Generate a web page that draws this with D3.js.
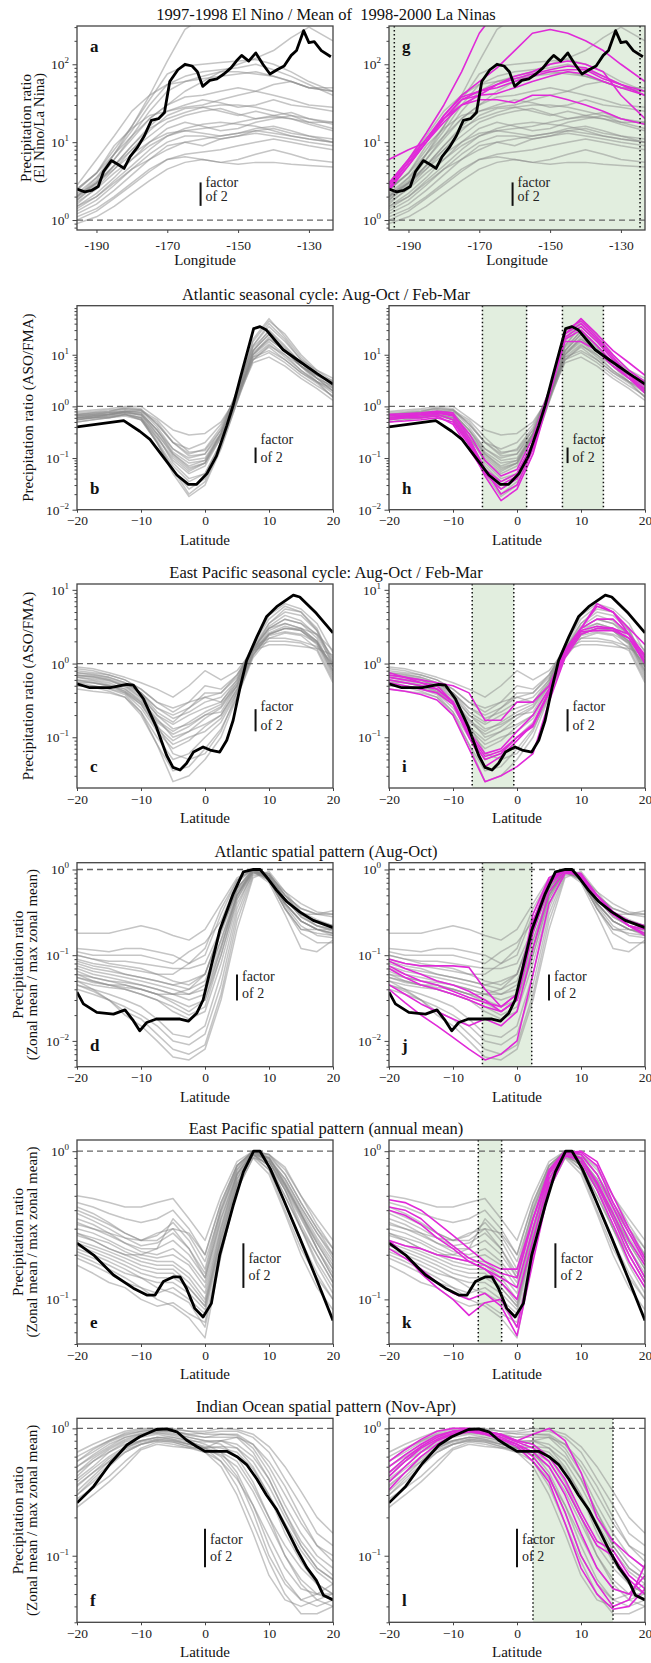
<!DOCTYPE html>
<html>
<head>
<meta charset="utf-8">
<script src="https://cdn.jsdelivr.net/npm/d3@7"></script>
<style>
body { margin: 0; background: #fff; }
svg { display: block; font-family: "Liberation Serif", "DejaVu Serif", serif; }
</style>
</head>
<body>
<div id="chart"></div>
<script>
// ---------- data ----------
const titles = [
  "1997-1998 El Nino / Mean of  1998-2000 La Ninas",
  "Atlantic seasonal cycle: Aug-Oct / Feb-Mar",
  "East Pacific seasonal cycle: Aug-Oct / Feb-Mar",
  "Atlantic spatial pattern (Aug-Oct)",
  "East Pacific spatial pattern (annual mean)",
  "Indian Ocean spatial pattern (Nov-Apr)"
];
const yLabelLines = [
  ["Precipitation ratio", "(El Nino/La Nina)"],
  ["Precipitation ratio (ASO/FMA)"],
  ["Precipitation ratio (ASO/FMA)"],
  ["Precipitation ratio", "(Zonal mean / max zonal mean)"],
  ["Precipitation ratio", "(Zonal mean / max zonal mean)"],
  ["Precipitation ratio", "(Zonal mean / max zonal mean)"]
];
const panelLetters = [["a", "g"], ["b", "h"], ["c", "i"], ["d", "j"], ["e", "k"], ["f", "l"]];
const lonTicks = [-190, -170, -150, -130];
const latTicks = [-20, -10, 0, 10, 20];

const lonGrid = [-195.5, -190, -185, -180, -175, -170, -165, -160, -155, -150, -145, -140, -135, -130, -123.2];
const latGrid = [-20, -17.5, -15, -12.5, -10, -7.5, -5, -2.5, 0, 2.5, 5, 7.5, 10, 12.5, 15, 17.5, 20];

// row 1: El Nino / La Nina
const elninoBlackLon = [-195.5,-193.3,-191.4,-189.5,-188,-185.8,-184,-182.2,-180.5,-178.5,-176.5,-174.5,-172.5,-170.8,-169.3,-167,-165,-163,-161.5,-160,-158,-156,-154,-152,-150.5,-149,-147,-145,-143,-141,-139,-137,-135,-133.5,-131.5,-130,-128.5,-126.5,-123.8];
const elninoBlack = [2.5,2.3,2.4,2.7,4.2,5.8,5.2,4.6,6.5,8.5,12,19,20,24,60,85,100,95,80,52,62,65,75,90,110,130,110,140,100,75,85,95,130,150,270,190,195,150,125];
const elninoGray = [
  [2.0,3.2,7,16,40,110,280,400,400,400,400,400,400,400,400],
  [2.5,4,8,16,35,75,95,100,105,110,115,100,80,60,45],
  [2.2,3.5,7,14,30,55,70,80,85,90,100,85,70,55,40],
  [1.8,3,6,12,25,45,60,70,80,80,75,70,60,50,45],
  [2.0,3.5,6,11,20,30,38,40,45,50,45,40,35,30,28],
  [1.8,2.8,5,9,16,25,30,35,32,28,30,35,30,28,25],
  [1.6,2.6,4.5,8,14,22,27,28,25,22,25,22,20,18,18],
  [2.1,3,5,8,12,18,22,25,27,23,20,22,24,20,17],
  [1.5,2.2,3.5,6,10,15,18,16,14,15,18,20,22,18,15],
  [1.7,2.5,4,6,9,12,14,15,16,18,20,21,20,17,14],
  [1.3,1.8,2.8,4.5,7,10,12,12,11,12,14,15,13,12,11],
  [1.2,1.6,2.4,3.8,6,9,10,11,12,13,15,16,14,12,10],
  [1.5,2,3,4.5,6,8,10,9,11,12,13,12,11,10,9],
  [1.0,1.3,1.9,2.8,4.2,6,7,7.5,8,9,10,11,10,9,8],
  [1.1,1.4,2,3,4.5,6,6.5,6,5.5,6,7,8,7,6,5.5],
  [0.9,1.1,1.5,2.2,3.2,4.5,5.5,6,5.5,5.2,5.5,5.5,5.2,5,4.8],
  [2.8,6,12,25,40,55,60,65,70,75,80,70,60,50,50],
  [1.9,3,5,9,15,20,24,28,30,30,28,25,22,20,18],
  [2.4,4,9,15,22,25,28,30,35,40,45,55,60,50,45],
  [2.5,4,7,12,20,30,45,60,80,100,120,150,220,300,200],
  [1.4,2,3.2,5,8,12,15,17,18,17,16,14,12,11,10],
  [2.0,3,4.5,7,10,13,14,13,12,13,14,13,12,11,10]
];
const elninoMagenta = [
  [3.0,6,13,30,80,250,500,500,500,500,500,500,500,500,500],
  [2.5,5,10,22,40,60,90,150,250,280,250,200,150,100,60],
  [3,6,11,20,35,45,55,65,75,85,95,90,70,55,45],
  [2.6,5.5,11,22,38,45,50,60,70,80,85,85,65,55,40],
  [2.4,5,10,20,35,40,42,50,60,70,80,75,60,50,40],
  [2.8,5.5,10,18,30,35,35,32,40,40,35,30,25,20,17],
  [6,8,10,20,30,40,55,70,80,100,110,100,80,40,20]
];

// row 2: Atlantic seasonal cycle
const atlSeasBlackLat = [-20,-12.7,-10.2,-8.6,-6,-4.4,-2.6,-1.3,0.3,1.8,3.4,4.4,5.5,7.6,8.6,9.6,12.2,14.8,17.4,20];
const atlSeasBlack = [0.40,0.53,0.33,0.23,0.086,0.047,0.031,0.031,0.05,0.11,0.42,1.05,3.5,32,35,30,12.5,7.4,4.4,2.7];
const atlSeasGray = [
  [0.8,0.85,0.9,1.0,1.0,0.6,0.35,0.28,0.3,0.5,1.5,8,15,10,6,4,3],
  [0.7,0.75,0.8,0.95,0.9,0.45,0.2,0.12,0.15,0.4,1.8,12,25,12,6,4,3.2],
  [0.65,0.7,0.75,0.8,0.75,0.35,0.15,0.1,0.12,0.35,2,15,40,20,8,5,3.5],
  [0.6,0.65,0.7,0.75,0.7,0.3,0.12,0.07,0.09,0.3,1.8,18,45,25,10,5,3],
  [0.55,0.6,0.7,0.8,0.65,0.25,0.09,0.05,0.07,0.25,1.5,20,50,22,9,4.5,2.5],
  [0.5,0.55,0.6,0.7,0.6,0.22,0.07,0.035,0.05,0.2,1.4,15,35,18,8,4,2.2],
  [0.6,0.62,0.65,0.7,0.55,0.2,0.06,0.025,0.04,0.18,1.3,12,30,15,7,3.5,2],
  [0.7,0.72,0.75,0.8,0.8,0.5,0.2,0.11,0.12,0.3,1.6,10,20,12,6,3.5,2.5],
  [0.55,0.6,0.65,0.75,0.6,0.2,0.05,0.018,0.03,0.15,1.2,10,22,12,6,3,1.8],
  [0.65,0.68,0.7,0.8,0.85,0.55,0.25,0.13,0.14,0.35,1.7,9,12,8,4.5,3,2],
  [0.75,0.8,0.85,0.9,0.85,0.4,0.15,0.09,0.1,0.3,1.6,8,11,7,4,2.5,1.6],
  [0.6,0.65,0.7,0.8,0.7,0.3,0.11,0.06,0.08,0.3,2,14,28,14,7,4,2.8],
  [0.5,0.55,0.6,0.65,0.55,0.25,0.1,0.055,0.08,0.28,1.6,10,18,10,5,3,1.5],
  [0.6,0.65,0.7,0.75,0.7,0.35,0.13,0.08,0.09,0.28,1.4,7,9,6,3.5,2.2,1.3],
  [0.7,0.75,0.8,0.9,0.85,0.45,0.2,0.15,0.2,0.45,1.6,9,16,9,5,3,2.3],
  [0.55,0.6,0.6,0.7,0.6,0.28,0.08,0.04,0.05,0.2,1.3,12,25,13,6,3.5,2],
  [0.65,0.7,0.75,0.85,0.75,0.35,0.12,0.065,0.08,0.25,1.5,11,20,12,6,3.5,2.4],
  [0.58,0.6,0.62,0.7,0.55,0.2,0.06,0.02,0.035,0.16,1.2,8,14,8,4.5,2.8,1.5]
];
const atlSeasMagenta = [
  [0.6,0.65,0.7,0.75,0.7,0.3,0.09,0.045,0.06,0.25,2,25,50,25,12,7,4],
  [0.55,0.6,0.6,0.65,0.45,0.15,0.05,0.025,0.04,0.2,2,30,45,22,10,5,3],
  [0.7,0.72,0.75,0.8,0.75,0.25,0.06,0.02,0.03,0.15,1.8,25,40,20,9,4,2],
  [0.5,0.52,0.55,0.6,0.5,0.18,0.045,0.015,0.025,0.12,1.5,20,30,15,7,3.5,1.8],
  [0.65,0.68,0.7,0.75,0.65,0.22,0.06,0.035,0.05,0.2,1.8,18,18,12,6,3.5,2.2],
  [0.6,0.62,0.65,0.7,0.55,0.2,0.055,0.03,0.045,0.18,1.7,22,35,18,8,4,2.5]
];

// row 3: East Pacific seasonal cycle
const epSeasBlackLat = [-20,-18,-14.8,-12.2,-11.2,-9.6,-7.6,-6,-5,-3.9,-2.9,-1.8,-0.3,0.8,2.3,3.4,4.4,5.5,6.5,8.1,9.6,11.2,13.8,14.8,17.4,20];
const epSeasBlack = [0.53,0.47,0.47,0.52,0.51,0.33,0.138,0.057,0.039,0.036,0.044,0.063,0.074,0.067,0.063,0.091,0.17,0.48,1.1,2.3,4.3,5.9,8.5,8.0,4.8,2.6];
const epSeasGray = [
  [0.9,0.85,0.75,0.65,0.55,0.45,0.35,0.5,0.8,0.6,0.8,1.5,2.5,3,3,2.5,1.5],
  [0.8,0.75,0.7,0.6,0.45,0.3,0.22,0.3,0.5,0.45,0.7,1.6,3,4,3.5,2.5,1.2],
  [0.75,0.7,0.65,0.55,0.4,0.25,0.18,0.22,0.3,0.35,0.6,1.7,3.5,5,4.5,2.8,1.1],
  [0.7,0.65,0.6,0.5,0.35,0.2,0.15,0.2,0.25,0.3,0.55,1.8,4,6,5,3,1],
  [0.65,0.6,0.55,0.45,0.3,0.17,0.12,0.16,0.22,0.28,0.5,1.5,3.5,5.5,5,2.8,0.9],
  [0.6,0.58,0.52,0.42,0.28,0.14,0.09,0.12,0.18,0.25,0.5,1.6,3,4,3.5,2.2,0.8],
  [0.55,0.55,0.5,0.4,0.25,0.12,0.07,0.09,0.14,0.2,0.45,1.4,2.8,3.5,3,2,0.7],
  [0.5,0.5,0.45,0.38,0.22,0.1,0.05,0.06,0.1,0.16,0.4,1.3,2.5,3,2.8,1.8,0.65],
  [0.45,0.42,0.4,0.35,0.2,0.08,0.035,0.04,0.07,0.13,0.35,1.2,2.2,2.6,2.4,1.6,0.6],
  [0.6,0.55,0.5,0.42,0.3,0.15,0.06,0.05,0.06,0.12,0.4,1.5,3,3.5,3,2,0.8],
  [0.5,0.48,0.42,0.35,0.22,0.08,0.025,0.03,0.05,0.1,0.35,1.3,2.5,3,2.8,1.9,0.75],
  [0.7,0.68,0.62,0.52,0.4,0.25,0.2,0.25,0.35,0.3,0.6,1.7,2.2,2.2,2,1.7,1],
  [0.85,0.8,0.7,0.6,0.45,0.3,0.25,0.3,0.35,0.4,0.7,1.5,1.8,1.8,1.7,1.6,1.3],
  [0.65,0.62,0.58,0.5,0.38,0.2,0.13,0.15,0.2,0.22,0.5,1.6,3.2,4.5,3.8,2.4,1],
  [0.58,0.55,0.5,0.45,0.32,0.18,0.1,0.12,0.15,0.2,0.45,1.4,2.6,3.2,2.8,2,0.9],
  [0.75,0.72,0.65,0.55,0.4,0.22,0.16,0.25,0.4,0.4,0.65,1.8,4.5,6.5,5.5,3.5,1.4],
  [0.55,0.5,0.46,0.4,0.28,0.13,0.08,0.1,0.12,0.18,0.42,1.3,2.4,2.7,2.5,1.9,0.9],
  [0.68,0.66,0.6,0.48,0.34,0.16,0.11,0.14,0.2,0.26,0.55,1.6,2,2,1.9,1.5,0.55]
];
const epSeasMagenta = [
  [0.7,0.65,0.6,0.55,0.5,0.4,0.17,0.17,0.3,0.3,0.5,1.5,3,6.5,5,3,1.8],
  [0.75,0.65,0.55,0.45,0.3,0.12,0.06,0.07,0.12,0.2,0.45,1.5,3,6,5,2.5,1.2],
  [0.6,0.55,0.5,0.45,0.3,0.1,0.05,0.06,0.1,0.14,0.4,1.5,3,4,4,2.5,1.0],
  [0.45,0.42,0.38,0.32,0.2,0.07,0.025,0.03,0.04,0.06,0.3,1.2,2.5,3,3,2.2,1.0],
  [0.55,0.5,0.45,0.4,0.28,0.1,0.04,0.055,0.09,0.15,0.4,1.3,2.8,3.2,3,2.5,1.3],
  [0.65,0.6,0.55,0.5,0.3,0.11,0.055,0.065,0.1,0.15,0.42,1.4,2.7,2.8,2.8,2.2,1.1]
];

// row 4: Atlantic spatial pattern
const atlSpatBlackLat = [-20,-19,-16.9,-14.3,-12.5,-11.2,-10.2,-9.1,-7.6,-6,-3.9,-2.6,-1.3,-0.3,0.8,2.3,4.4,6,7.6,8.6,9.6,11.2,12.8,14.8,16.9,20];
const atlSpatBlack = [0.037,0.027,0.0215,0.0205,0.023,0.0172,0.0131,0.0164,0.018,0.018,0.018,0.017,0.021,0.03,0.066,0.195,0.52,0.94,1.0,1.0,0.82,0.57,0.42,0.32,0.255,0.21];
const atlSpatGray = [
  [0.18,0.18,0.18,0.2,0.22,0.2,0.17,0.15,0.2,0.4,0.8,1.0,0.8,0.5,0.35,0.3,0.28],
  [0.12,0.115,0.11,0.12,0.12,0.11,0.1,0.08,0.1,0.3,0.75,1.0,0.85,0.55,0.4,0.32,0.3],
  [0.11,0.1,0.1,0.1,0.1,0.09,0.08,0.11,0.14,0.25,0.7,1.0,0.9,0.5,0.35,0.3,0.33],
  [0.1,0.09,0.085,0.085,0.08,0.075,0.07,0.07,0.08,0.2,0.6,1.0,0.8,0.45,0.3,0.25,0.22],
  [0.09,0.08,0.075,0.07,0.065,0.06,0.05,0.045,0.06,0.18,0.6,1.0,0.75,0.35,0.2,0.2,0.2],
  [0.085,0.075,0.07,0.06,0.055,0.05,0.045,0.04,0.05,0.15,0.55,0.95,0.7,0.3,0.12,0.11,0.15],
  [0.075,0.065,0.06,0.055,0.05,0.045,0.04,0.035,0.04,0.13,0.5,0.95,0.75,0.4,0.25,0.2,0.18],
  [0.07,0.06,0.055,0.05,0.045,0.04,0.035,0.03,0.035,0.12,0.5,1.0,0.8,0.4,0.25,0.2,0.17],
  [0.065,0.055,0.05,0.045,0.04,0.035,0.03,0.025,0.03,0.1,0.45,0.95,0.8,0.45,0.28,0.22,0.19],
  [0.06,0.05,0.045,0.045,0.04,0.035,0.028,0.022,0.03,0.12,0.5,1.0,0.75,0.38,0.22,0.17,0.16],
  [0.055,0.048,0.045,0.04,0.035,0.03,0.025,0.02,0.025,0.1,0.45,0.95,0.85,0.45,0.3,0.25,0.22],
  [0.05,0.045,0.042,0.04,0.035,0.03,0.022,0.018,0.022,0.08,0.4,0.9,0.9,0.5,0.3,0.22,0.2],
  [0.045,0.04,0.035,0.03,0.025,0.018,0.012,0.011,0.015,0.06,0.35,0.95,0.8,0.4,0.25,0.2,0.18],
  [0.04,0.035,0.03,0.025,0.02,0.015,0.01,0.009,0.012,0.045,0.3,0.9,0.85,0.45,0.28,0.22,0.2],
  [0.045,0.038,0.03,0.022,0.018,0.012,0.008,0.007,0.009,0.035,0.25,0.85,0.9,0.5,0.3,0.25,0.21],
  [0.05,0.04,0.03,0.02,0.015,0.01,0.0065,0.006,0.008,0.03,0.2,0.8,0.95,0.55,0.32,0.26,0.22],
  [0.1,0.09,0.08,0.075,0.07,0.06,0.06,0.08,0.12,0.35,0.75,1.0,0.8,0.4,0.25,0.2,0.18],
  [0.06,0.055,0.05,0.048,0.045,0.04,0.035,0.04,0.06,0.2,0.6,1.0,0.75,0.35,0.2,0.18,0.17],
  [0.08,0.07,0.065,0.06,0.055,0.05,0.045,0.05,0.06,0.2,0.55,1.0,0.85,0.45,0.3,0.3,0.3],
  [0.055,0.05,0.045,0.042,0.04,0.035,0.035,0.035,0.045,0.15,0.5,0.95,0.75,0.35,0.18,0.14,0.14]
];
const atlSpatMagenta = [
  [0.09,0.08,0.075,0.075,0.075,0.072,0.04,0.025,0.035,0.3,0.8,1.0,0.8,0.45,0.3,0.25,0.2],
  [0.085,0.07,0.06,0.05,0.045,0.038,0.03,0.022,0.03,0.25,0.75,1.0,0.85,0.5,0.32,0.25,0.22],
  [0.075,0.06,0.05,0.045,0.038,0.032,0.028,0.025,0.035,0.2,0.7,1.0,0.85,0.5,0.32,0.25,0.2],
  [0.07,0.055,0.045,0.04,0.035,0.03,0.025,0.022,0.03,0.18,0.65,1.0,0.8,0.45,0.3,0.22,0.18],
  [0.045,0.035,0.027,0.022,0.018,0.015,0.018,0.015,0.022,0.12,0.55,0.95,0.85,0.5,0.32,0.22,0.17],
  [0.04,0.028,0.02,0.015,0.011,0.008,0.006,0.007,0.01,0.06,0.4,0.9,0.9,0.5,0.3,0.22,0.2]
];

// row 5: East Pacific spatial pattern
const epSpatBlackLat = [-20,-17.4,-14.3,-11.2,-9.1,-7.8,-6.5,-4.9,-3.9,-2.9,-1.6,-0.3,1.0,2.3,4.4,6,7.6,8.6,10.2,12.2,14.8,17.4,20];
const epSpatBlack = [0.24,0.199,0.146,0.119,0.107,0.107,0.132,0.142,0.142,0.119,0.087,0.076,0.094,0.2,0.43,0.725,1.0,1.0,0.76,0.48,0.26,0.138,0.072];
const epSpatGray = [
  [0.5,0.48,0.45,0.42,0.42,0.45,0.48,0.35,0.25,0.5,0.85,1.0,0.95,0.7,0.45,0.3,0.22],
  [0.45,0.42,0.38,0.35,0.33,0.35,0.4,0.3,0.2,0.45,0.8,1.0,0.9,0.65,0.42,0.28,0.2],
  [0.42,0.38,0.33,0.28,0.25,0.27,0.33,0.25,0.16,0.42,0.8,1.0,0.95,0.75,0.5,0.35,0.25],
  [0.38,0.34,0.3,0.26,0.23,0.24,0.28,0.22,0.15,0.4,0.78,1.0,0.9,0.6,0.38,0.25,0.17],
  [0.35,0.32,0.28,0.24,0.22,0.22,0.25,0.2,0.14,0.38,0.75,1.0,0.92,0.7,0.45,0.3,0.2],
  [0.33,0.3,0.27,0.24,0.21,0.2,0.22,0.18,0.13,0.35,0.72,0.98,0.85,0.58,0.36,0.22,0.15],
  [0.3,0.28,0.25,0.22,0.2,0.19,0.2,0.17,0.12,0.32,0.7,0.98,0.9,0.62,0.4,0.26,0.18],
  [0.28,0.26,0.24,0.21,0.19,0.18,0.18,0.15,0.11,0.3,0.7,0.95,0.8,0.5,0.3,0.18,0.12],
  [0.27,0.25,0.22,0.2,0.18,0.17,0.17,0.14,0.1,0.3,0.68,0.95,0.88,0.65,0.42,0.28,0.19],
  [0.25,0.23,0.21,0.19,0.17,0.16,0.16,0.13,0.095,0.28,0.65,0.95,0.8,0.5,0.3,0.2,0.13],
  [0.23,0.21,0.19,0.17,0.15,0.14,0.14,0.12,0.09,0.27,0.65,0.95,0.85,0.58,0.37,0.24,0.16],
  [0.21,0.19,0.17,0.15,0.14,0.13,0.13,0.11,0.085,0.25,0.62,0.92,0.75,0.45,0.25,0.15,0.1],
  [0.19,0.17,0.15,0.13,0.12,0.11,0.12,0.1,0.08,0.24,0.6,0.95,0.8,0.55,0.35,0.22,0.14],
  [0.17,0.15,0.13,0.12,0.1,0.09,0.095,0.08,0.07,0.22,0.58,0.95,0.9,0.6,0.38,0.22,0.14],
  [0.2,0.18,0.16,0.14,0.12,0.1,0.09,0.075,0.055,0.2,0.55,0.9,0.85,0.55,0.3,0.17,0.11],
  [0.28,0.25,0.22,0.2,0.2,0.22,0.35,0.27,0.18,0.4,0.75,1.0,0.85,0.55,0.32,0.2,0.13],
  [0.32,0.3,0.28,0.26,0.25,0.28,0.3,0.22,0.14,0.35,0.7,0.98,0.88,0.6,0.38,0.24,0.16],
  [0.24,0.22,0.2,0.18,0.16,0.15,0.15,0.12,0.09,0.26,0.6,0.95,0.75,0.4,0.22,0.14,0.1],
  [0.22,0.2,0.18,0.16,0.14,0.12,0.11,0.095,0.065,0.2,0.55,0.9,0.7,0.38,0.2,0.12,0.085],
  [0.4,0.36,0.32,0.28,0.25,0.25,0.3,0.28,0.2,0.45,0.8,1.0,0.95,0.78,0.5,0.32,0.22]
];
const epSpatMagenta = [
  [0.47,0.45,0.4,0.33,0.27,0.22,0.18,0.16,0.16,0.35,0.75,1.0,0.98,0.8,0.45,0.28,0.18],
  [0.42,0.4,0.35,0.28,0.23,0.19,0.17,0.15,0.14,0.35,0.72,0.98,1.0,0.85,0.5,0.3,0.19],
  [0.4,0.37,0.32,0.26,0.22,0.18,0.16,0.14,0.12,0.3,0.7,1.0,0.95,0.7,0.42,0.25,0.17],
  [0.25,0.23,0.22,0.2,0.19,0.18,0.16,0.13,0.1,0.25,0.65,0.98,0.9,0.6,0.35,0.2,0.13],
  [0.25,0.2,0.15,0.12,0.1,0.078,0.095,0.1,0.065,0.2,0.6,0.95,0.85,0.55,0.32,0.18,0.12],
  [0.22,0.19,0.16,0.13,0.11,0.1,0.11,0.09,0.057,0.18,0.55,0.92,0.9,0.62,0.38,0.22,0.14]
];

// row 6: Indian Ocean spatial pattern
const ioSpatBlackLat = [-20,-17.4,-14.8,-12.2,-10.2,-7.6,-6,-4.4,-2.9,-1.3,0,1.8,3.4,5,6.5,8.1,9.6,11.2,12.8,14.3,15.9,17.4,18.5,20];
const ioSpatBlack = [0.26,0.35,0.53,0.74,0.86,0.98,0.99,0.94,0.81,0.72,0.66,0.66,0.66,0.6,0.52,0.4,0.3,0.23,0.16,0.113,0.081,0.064,0.049,0.045];
const ioSpatGray = [
  [0.65,0.75,0.85,0.95,1.0,1.0,1.0,0.95,0.9,0.9,0.9,0.75,0.5,0.3,0.18,0.12,0.1],
  [0.6,0.7,0.8,0.9,0.95,0.98,0.95,0.9,0.85,0.85,0.85,0.65,0.4,0.22,0.12,0.08,0.065],
  [0.55,0.65,0.78,0.88,0.95,0.97,0.95,0.88,0.85,0.9,0.88,0.7,0.45,0.25,0.15,0.1,0.08],
  [0.5,0.62,0.75,0.85,0.9,0.95,0.92,0.85,0.8,0.8,0.7,0.5,0.3,0.15,0.09,0.06,0.05],
  [0.45,0.58,0.7,0.82,0.9,0.93,0.9,0.85,0.8,0.75,0.6,0.38,0.2,0.1,0.06,0.045,0.04],
  [0.42,0.55,0.68,0.8,0.88,0.92,0.88,0.82,0.75,0.65,0.45,0.25,0.12,0.065,0.045,0.04,0.045],
  [0.4,0.5,0.65,0.78,0.85,0.9,0.85,0.8,0.7,0.55,0.35,0.18,0.09,0.05,0.035,0.035,0.04],
  [0.38,0.48,0.6,0.72,0.8,0.85,0.82,0.78,0.72,0.7,0.65,0.48,0.3,0.18,0.11,0.075,0.06],
  [0.35,0.45,0.58,0.7,0.8,0.85,0.82,0.75,0.7,0.65,0.55,0.35,0.2,0.12,0.08,0.06,0.05],
  [0.32,0.42,0.55,0.7,0.78,0.82,0.8,0.75,0.7,0.72,0.7,0.55,0.35,0.2,0.12,0.08,0.065],
  [0.3,0.38,0.5,0.65,0.75,0.8,0.78,0.72,0.68,0.62,0.5,0.32,0.18,0.1,0.065,0.05,0.045],
  [0.28,0.34,0.42,0.55,0.7,0.78,0.75,0.7,0.65,0.55,0.4,0.25,0.14,0.08,0.055,0.05,0.05],
  [0.24,0.3,0.38,0.5,0.68,0.75,0.72,0.7,0.7,0.8,0.85,0.75,0.55,0.35,0.2,0.12,0.09],
  [0.5,0.6,0.72,0.85,0.92,0.95,0.95,0.9,0.92,0.95,0.95,0.85,0.65,0.4,0.25,0.15,0.12],
  [0.55,0.68,0.8,0.92,0.98,1.0,0.98,0.95,0.95,1.0,0.98,0.9,0.72,0.5,0.32,0.2,0.15],
  [0.45,0.55,0.65,0.75,0.8,0.85,0.85,0.8,0.78,0.8,0.75,0.6,0.4,0.22,0.13,0.09,0.07],
  [0.36,0.45,0.55,0.68,0.75,0.8,0.78,0.72,0.65,0.5,0.3,0.15,0.07,0.045,0.04,0.045,0.05],
  [0.3,0.4,0.52,0.65,0.75,0.82,0.8,0.75,0.7,0.6,0.42,0.22,0.1,0.06,0.045,0.05,0.06]
];
const ioSpatMagenta = [
  [0.55,0.68,0.82,0.95,1.0,1.0,0.95,0.9,0.8,0.9,1.0,0.8,0.45,0.2,0.13,0.1,0.08],
  [0.5,0.62,0.75,0.88,0.95,0.98,0.95,0.9,0.8,0.75,0.6,0.4,0.22,0.13,0.11,0.07,0.055],
  [0.45,0.58,0.72,0.85,0.95,0.98,0.95,0.88,0.78,0.7,0.55,0.35,0.2,0.12,0.1,0.065,0.05],
  [0.42,0.55,0.7,0.82,0.92,0.96,0.92,0.85,0.75,0.65,0.5,0.3,0.15,0.08,0.055,0.05,0.07],
  [0.38,0.5,0.65,0.8,0.9,0.95,0.9,0.82,0.75,0.6,0.42,0.22,0.1,0.06,0.04,0.045,0.085],
  [0.33,0.45,0.6,0.75,0.88,0.94,0.9,0.82,0.72,0.55,0.38,0.18,0.08,0.05,0.038,0.04,0.055]
];

// highlighted ranges (right column) and "factor of 2" marker positions
const shadeRanges = [[[-196, -123]], [[-5.4, 1.5], [7.1, 13.5]], [[-7, -0.5]], [[-5.4, 2.3]], [[-6.05, -2.4]], [[2.5, 15]]];
const dottedAt = [[-194, -124.6], [-5.4, 1.5, 7.1, 13.5], [-7, -0.5], [-5.4, 2.3], [-6.05, -2.4], [2.5, 15]];
const factorX = [-160.6, 7.9, 7.9, 5, 6, 0];
const factorV = [2.15, 0.113, 0.17, 0.042, 0.169, 0.115];
const yDomains = [[0.745, 310], [0.01, 89], [0.0205, 12], [0.005, 1.2], [0.05, 1.19], [0.03, 1.2]];
const yMajors = [[1, 10, 100], [0.01, 0.1, 1, 10], [0.1, 1, 10], [0.01, 0.1, 1], [0.1, 1], [0.1, 1]];

// ---------- layout ----------
const W = 651, H = 1663;
const colLeft = [77, 389];
const pw = 256, ph = 204;
const rowTop = [26, 305.7, 584, 862.7, 1140, 1418.3];
const yLabelX = [[26, 39], [28], [28], [18, 32], [18, 32], [18, 32]];
const factorDy = [[-7, 7], [-11, 6.5], [-9, 9.5], [-6.5, 11], [-2.5, 14.5], [-4, 13]];

const rows = [
  {xDomain: [-195.5, -123.2], xTicks: lonTicks, xFmt: d => String(d), xLabel: "Longitude",
   grayX: lonGrid, gray: elninoGray, blackX: elninoBlackLon, black: elninoBlack, magenta: elninoMagenta},
  {xDomain: [-20, 20], xTicks: latTicks, xFmt: d3.format(""), xLabel: "Latitude",
   grayX: latGrid, gray: atlSeasGray, blackX: atlSeasBlackLat, black: atlSeasBlack, magenta: atlSeasMagenta},
  {xDomain: [-20, 20], xTicks: latTicks, xFmt: d3.format(""), xLabel: "Latitude",
   grayX: latGrid, gray: epSeasGray, blackX: epSeasBlackLat, black: epSeasBlack, magenta: epSeasMagenta},
  {xDomain: [-20, 20], xTicks: latTicks, xFmt: d3.format(""), xLabel: "Latitude",
   grayX: latGrid, gray: atlSpatGray, blackX: atlSpatBlackLat, black: atlSpatBlack, magenta: atlSpatMagenta},
  {xDomain: [-20, 20], xTicks: latTicks, xFmt: d3.format(""), xLabel: "Latitude",
   grayX: latGrid, gray: epSpatGray, blackX: epSpatBlackLat, black: epSpatBlack, magenta: epSpatMagenta},
  {xDomain: [-20, 20], xTicks: latTicks, xFmt: d3.format(""), xLabel: "Latitude",
   grayX: latGrid, gray: ioSpatGray, blackX: ioSpatBlackLat, black: ioSpatBlack, magenta: ioSpatMagenta}
];

function translate(x, y) {
  return 'translate(' + x + ',' + y + ')';
}

const svg = d3.select("#chart").append("svg")
  .attr("width", W)
  .attr("height", H);

function minorTicks(dom) {
  const out = [];
  const e0 = Math.floor(Math.log10(dom[0])), e1 = Math.ceil(Math.log10(dom[1]));
  for (let e = e0; e <= e1; e++) {
    for (let k = 2; k <= 9; k++) {
      const v = k * Math.pow(10, e);
      if (v >= dom[0] && v <= dom[1]) out.push(v);
    }
  }
  return out;
}

rows.forEach(function(row, r) {
  const top = rowTop[r];

  // row title
  svg.append("text")
    .attr("x", 326).attr("y", top - 6)
    .attr("text-anchor", "middle")
    .style("font-size", "16.5px")
    .style("white-space", "pre")
    .attr("fill", "#111")
    .text(titles[r]);

  // y label (left column only)
  yLabelLines[r].forEach(function(line, i) {
    svg.append("text")
      .attr("transform", translate(yLabelX[r][i] + 5, top + ph / 2) + " rotate(-90)")
      .attr("text-anchor", "middle")
      .style("font-size", "15px")
      .attr("fill", "#111")
      .text(line);
  });

  [0, 1].forEach(function(c) {
    const g = svg.append("g").attr("transform", translate(colLeft[c], top));
    const x = d3.scaleLinear().domain(row.xDomain).range([0, pw]);
    const y = d3.scaleLog().domain(yDomains[r]).range([ph, 0]);
    const line = d3.line().x(d => x(d[0])).y(d => y(d[1]));
    const clipId = "clip" + r + "_" + c;

    g.append("clipPath").attr("id", clipId)
      .append("rect").attr("width", pw).attr("height", ph);
    const plot = g.append("g").attr("clip-path", "url(#" + clipId + ")");

    if (c === 1) {
      plot.selectAll(".shade").data(shadeRanges[r]).enter().append("rect")
        .attr("x", d => x(d[0]))
        .attr("width", d => x(d[1]) - x(d[0]))
        .attr("y", 0).attr("height", ph)
        .attr("fill", "#e2eedf");
    }

    plot.selectAll(".gray").data(row.gray).enter().append("path")
      .attr("d", vals => line(vals.map((v, i) => [row.grayX[i], v])))
      .attr("fill", "none")
      .attr("stroke", "#8c8c8c")
      .attr("stroke-opacity", 0.5)
      .attr("stroke-width", 1.5)
      .attr("stroke-linejoin", "round");

    plot.append("line")
      .attr("x1", 0).attr("x2", pw)
      .attr("y1", y(1)).attr("y2", y(1))
      .attr("stroke", "#666")
      .attr("stroke-width", 1.3)
      .attr("stroke-dasharray", "6,4");

    if (c === 1) {
      plot.selectAll(".mag").data(row.magenta).enter().append("path")
        .attr("d", vals => line(vals.map((v, i) => [row.grayX[i], v])))
        .attr("fill", "none")
        .attr("stroke", "#e02ad8")
        .attr("stroke-width", 1.6)
        .attr("stroke-linejoin", "round");
    }

    plot.append("path")
      .attr("d", line(row.black.map((v, i) => [row.blackX[i], v])))
      .attr("fill", "none")
      .attr("stroke", "#000")
      .attr("stroke-width", 2.8)
      .attr("stroke-linejoin", "round");

    if (c === 1) {
      plot.selectAll(".dot").data(dottedAt[r]).enter().append("line")
        .attr("x1", d => x(d)).attr("x2", d => x(d))
        .attr("y1", 0).attr("y2", ph)
        .attr("stroke", "#111")
        .attr("stroke-width", 1.5)
        .attr("stroke-dasharray", "1.5,2.5");
    }

    // axes
    const xAxis = g.append("g")
      .attr("transform", translate(0, ph))
      .call(d3.axisBottom(x).tickValues(row.xTicks).tickSize(3).tickSizeOuter(0).tickFormat(row.xFmt));
    xAxis.select(".domain").remove();
    xAxis.selectAll("line").attr("stroke", "#444");
    xAxis.selectAll("text")
      .attr("y", r === 0 ? 10 : 6)
      .attr("dy", "0.71em")
      .style("font-size", "13.5px")
      .style("font-family", "Liberation Serif, serif")
      .attr("fill", "#222");

    const yMinor = g.append("g")
      .call(d3.axisLeft(y).tickValues(minorTicks(yDomains[r])).tickSize(2.5).tickSizeOuter(0).tickFormat(""));
    yMinor.select(".domain").remove();
    yMinor.selectAll("line").attr("stroke", "#444");

    const yAxis = g.append("g")
      .call(d3.axisLeft(y).tickValues(yMajors[r]).tickSize(4.5).tickSizeOuter(0).tickFormat(""));
    yAxis.select(".domain").remove();
    yAxis.selectAll("line").attr("stroke", "#444");

    yMajors[r].forEach(function(v) {
      const e = Math.round(Math.log10(v));
      const t = g.append("text")
        .attr("x", -8).attr("y", y(v) + 5)
        .attr("text-anchor", "end")
        .style("font-size", "13.5px")
        .attr("fill", "#222");
      t.append("tspan").text("10");
      t.append("tspan")
        .attr("dy", -6)
        .style("font-size", "9px")
        .text(e < 0 ? "\u2212" + (-e) : String(e));
    });

    // frame
    g.append("rect")
      .attr("width", pw).attr("height", ph)
      .attr("fill", "none")
      .attr("stroke", "#444")
      .attr("stroke-width", 1.3);

    // x label
    g.append("text")
      .attr("x", pw / 2).attr("y", ph + 35)
      .attr("text-anchor", "middle")
      .style("font-size", "15px")
      .attr("fill", "#111")
      .text(row.xLabel);

    // panel letter
    g.append("text")
      .attr("x", 13)
      .attr("y", r === 0 ? 26 : ph - 16)
      .style("font-size", "17px")
      .style("font-weight", "bold")
      .attr("fill", "#111")
      .text(panelLetters[r][c]);

    // factor of 2 marker
    const fx = x(factorX[r]), fy = y(factorV[r]);
    g.append("line")
      .attr("x1", fx).attr("x2", fx)
      .attr("y1", y(factorV[r] / Math.SQRT2)).attr("y2", y(factorV[r] * Math.SQRT2))
      .attr("stroke", "#111")
      .attr("stroke-width", 2);
    g.append("text")
      .attr("x", fx + 5).attr("y", fy + factorDy[r][0])
      .style("font-size", "14px").attr("fill", "#222")
      .text("factor");
    g.append("text")
      .attr("x", fx + 5).attr("y", fy + factorDy[r][1])
      .style("font-size", "14px").attr("fill", "#222")
      .text("of 2");
  });
});
</script>
</body>
</html>
